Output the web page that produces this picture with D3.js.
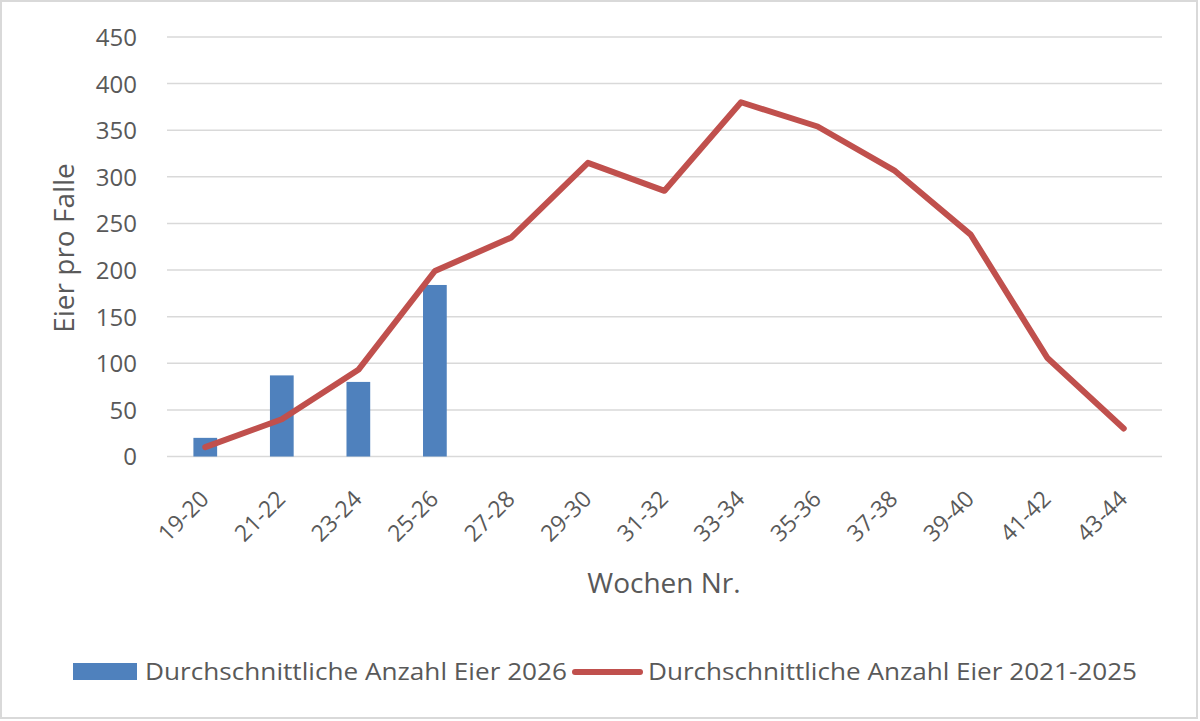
<!DOCTYPE html>
<html>
<head>
<meta charset="utf-8">
<script src="https://cdn.jsdelivr.net/npm/d3@7"></script>
<style>
  html, body { margin: 0; padding: 0; background: #fff; }
  svg { display: block; }
  text { font-family: "Open Sans", "Noto Sans", sans-serif; fill: #595959; }
</style>
</head>
<body>
<svg id="chart" width="1200" height="721"></svg>
<script>
const categories = ["19-20","21-22","23-24","25-26","27-28","29-30","31-32","33-34","35-36","37-38","39-40","41-42","43-44"];
const bars2026 = [20, 87, 80, 184, null, null, null, null, null, null, null, null, null];
const avg2021_2025 = [10, 40, 93, 199, 235, 315, 285, 380, 354, 307, 238, 106, 30];
const yTicks = [0, 50, 100, 150, 200, 250, 300, 350, 400, 450];
const seriesNames = ["Durchschnittliche Anzahl Eier 2026", "Durchschnittliche Anzahl Eier 2021-2025"];
const xTitle = "Wochen Nr.";
const yTitle = "Eier pro Falle";

const svg = d3.select("#chart");
const W = 1200, H = 721;
const plot = { left: 167, right: 1162, top: 37, bottom: 456.5 };

// outer border
svg.append("rect").attr("x", 1).attr("y", 1).attr("width", W - 4).attr("height", H - 4)
  .attr("fill", "#fff").attr("stroke", "#d9d9d9").attr("stroke-width", 2);

const x = d3.scaleBand().domain(categories).range([plot.left, plot.right]).padding(0);
const y = d3.scaleLinear().domain([0, 450]).range([plot.bottom, plot.top]);

// gridlines
svg.append("g").selectAll("line").data(yTicks).join("line")
  .attr("x1", plot.left).attr("x2", plot.right)
  .attr("y1", d => y(d)).attr("y2", d => y(d))
  .attr("stroke", "#d9d9d9").attr("stroke-width", 1.5);

// y axis labels
const yAxis = d3.axisLeft(y).tickValues(yTicks).tickSize(0).tickPadding(0);
const gy = svg.append("g").attr("transform", `translate(${137},0)`).call(yAxis);
gy.select(".domain").remove();
gy.selectAll("text").attr("font-size", 24).attr("fill", "#595959")
  .style("font-family", '"Open Sans", sans-serif').attr("dy", "0.35em").attr("x", 0);

// x axis labels
const xAxis = d3.axisBottom(x).tickSize(0).tickPadding(0);
const gx = svg.append("g").attr("transform", `translate(0,${plot.bottom})`).call(xAxis);
gx.select(".domain").remove();
gx.selectAll("text")
  .attr("font-size", 23).attr("fill", "#595959")
  .style("font-family", '"Open Sans", sans-serif')
  .attr("text-anchor", "end")
  .attr("x", 0).attr("y", 0).attr("dy", 0)
  .attr("transform", "translate(5,44) rotate(-45)");

// bars
const bw = x.bandwidth() * 0.31;
svg.append("g").selectAll("rect")
  .data(categories.map((c, i) => ({ c, v: bars2026[i] })).filter(d => d.v != null))
  .join("rect")
  .attr("x", d => x(d.c) + x.bandwidth() / 2 - bw / 2)
  .attr("width", bw)
  .attr("y", d => y(d.v))
  .attr("height", d => y(0) - y(d.v))
  .attr("fill", "#4f81bd");

// line
const line = d3.line()
  .x((d, i) => x(categories[i]) + x.bandwidth() / 2)
  .y(d => y(d));
svg.append("path").datum(avg2021_2025)
  .attr("d", line).attr("fill", "none")
  .attr("stroke", "#c0504d").attr("stroke-width", 6)
  .attr("stroke-linejoin", "round").attr("stroke-linecap", "round");

// axis titles
svg.append("text").attr("x", 664).attr("y", 593).attr("text-anchor", "middle")
  .attr("font-size", 28).text(xTitle);
svg.append("text").attr("transform", "translate(74,248) rotate(-90)")
  .attr("text-anchor", "middle").attr("font-size", 28).text(yTitle);

// legend
const lg = svg.append("g");
lg.append("rect").attr("x", 73).attr("y", 663).attr("width", 64).attr("height", 17).attr("fill", "#4f81bd");
const t1 = lg.append("text").attr("x", 145).attr("y", 680).attr("font-size", 24).text(seriesNames[0]);
lg.append("line").attr("x1", 575).attr("x2", 640).attr("y1", 672).attr("y2", 672)
  .attr("stroke", "#c0504d").attr("stroke-width", 6).attr("stroke-linecap", "round");
const t2 = lg.append("text").attr("x", 648).attr("y", 680).attr("font-size", 24).text(seriesNames[1]);
t1.attr("textLength", 422).attr("lengthAdjust", "spacingAndGlyphs");
t2.attr("textLength", 489).attr("lengthAdjust", "spacingAndGlyphs");
</script>
</body>
</html>
